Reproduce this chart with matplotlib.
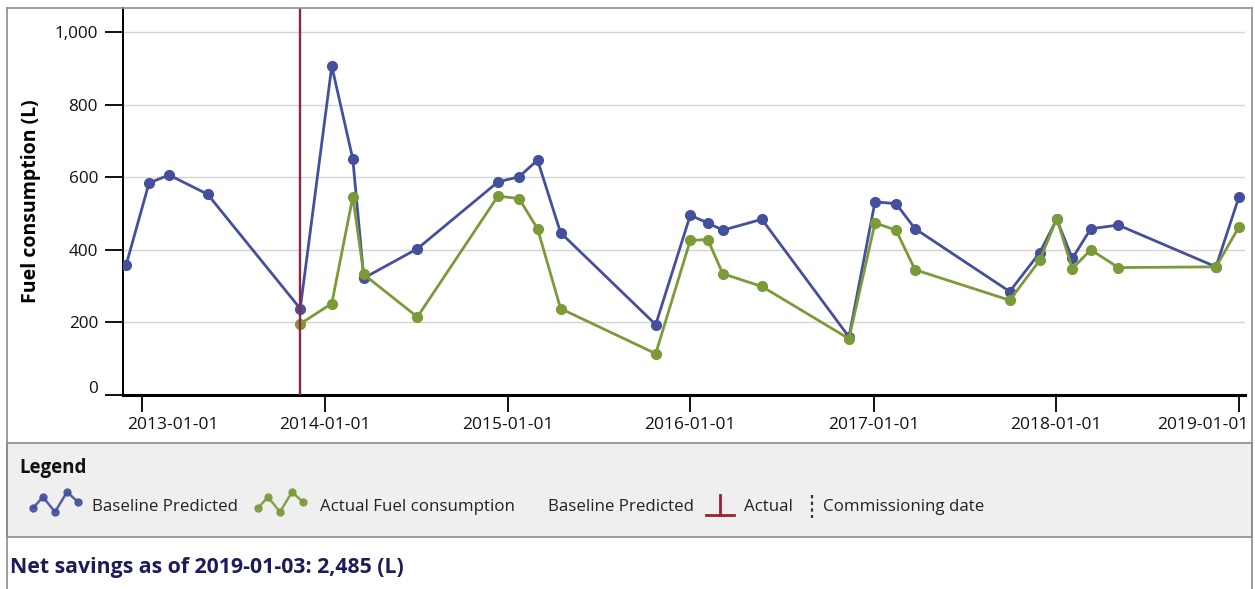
import matplotlib
matplotlib.use("Agg")
import matplotlib.pyplot as plt
import matplotlib.dates as mdates
import matplotlib.transforms as mtransforms
from matplotlib.patches import Rectangle
import numpy as np
import pandas as pd

plt.rcParams['font.family'] = ['Open Sans', 'DejaVu Sans']

# === data ===
baseline_dates = ["2012-11-30", "2013-01-15", "2013-02-24", "2013-05-12", "2013-11-13",
                  "2014-01-15", "2014-02-26", "2014-03-20", "2014-07-05", "2014-12-13",
                  "2015-01-24", "2015-03-02", "2015-04-17", "2015-10-24", "2016-01-01",
                  "2016-02-05", "2016-03-06", "2016-05-23", "2016-11-13", "2017-01-04",
                  "2017-02-15", "2017-03-25", "2017-09-30", "2017-11-29", "2018-01-02",
                  "2018-02-02", "2018-03-11", "2018-05-05", "2018-11-16", "2019-01-01"]
baseline_values = [357, 584, 606, 553, 238, 906, 650, 322, 403, 587,
                   601, 647, 447, 194, 495, 474, 454, 484, 160, 532,
                   527, 458, 285, 392, 484, 376, 458, 468, 353, 546]

actual_dates = ["2013-11-13", "2014-01-15", "2014-02-26", "2014-03-20", "2014-07-05",
                "2014-12-13", "2015-01-24", "2015-03-02", "2015-04-17", "2015-10-24",
                "2016-01-01", "2016-02-05", "2016-03-06", "2016-05-23", "2016-11-13",
                "2017-01-04", "2017-02-15", "2017-03-25", "2017-09-30", "2017-11-29",
                "2018-01-02", "2018-02-02", "2018-03-11", "2018-05-05", "2018-11-16",
                "2019-01-01"]
actual_values = [196, 252, 546, 332, 215, 548, 541, 458, 238, 114,
                 426, 428, 334, 299, 155, 474, 454, 345, 261, 371,
                 486, 348, 400, 351, 353, 463]

commissioning_date = "2013-11-12"
x_ticks = ["2013-01-01", "2014-01-01", "2015-01-01", "2016-01-01",
           "2017-01-01", "2018-01-01", "2019-01-01"]
y_ticks = [0, 200, 400, 600, 800, 1000]
legend_labels = ["Baseline Predicted", "Actual Fuel consumption", "Baseline Predicted",
                 "Actual", "Commissioning date"]
net_savings_text = "Net savings as of 2019-01-03: 2,485 (L)"

BLUE = "#44509c"
GREEN = "#7b9a38"
RED = "#9c1f35"

W, H = 1255, 589
fig = plt.figure(figsize=(W / 100, H / 100), dpi=100)
ax = fig.add_axes([123 / W, 1 - 395 / H, (1245 - 123) / W, (395 - 8) / H])

bd = pd.to_datetime(baseline_dates)
adt = pd.to_datetime(actual_dates)

ax.plot(bd, baseline_values, color=BLUE, lw=2.0, marker='o', ms=7,
        mfc=BLUE, mec=BLUE, zorder=3)
ax.plot(adt, actual_values, color=GREEN, lw=2.0, marker='o', ms=7,
        mfc=GREEN, mec=GREEN, zorder=4)
ax.axvline(pd.Timestamp(commissioning_date), color=RED, lw=1.7, zorder=5)
ax.axvline(pd.Timestamp(commissioning_date), color="#3a4a9a", lw=0.5, ls=':', zorder=6)

ax.set_xlim(pd.Timestamp("2012-11-24"), pd.Timestamp("2019-01-13"))
ax.set_ylim(0, 1066)

ax.set_xticks(pd.to_datetime(x_ticks))
ax.xaxis.set_major_formatter(mdates.DateFormatter("%Y-%m-%d"))
ax.set_yticks(y_ticks)
ax.set_yticklabels([f"{v:,}" for v in y_ticks])

ax.grid(axis='y', color='#d4d4d4', lw=1.0, zorder=0)
ax.set_axisbelow(True)
for s in ['top', 'right']:
    ax.spines[s].set_visible(False)
ax.spines['left'].set_linewidth(1.4)
ax.spines['bottom'].set_linewidth(2.2)

ax.tick_params(axis='y', direction='out', length=13, width=1.4, pad=5,
               labelsize=12.3, colors='#111111')
ax.tick_params(axis='x', direction='out', length=12, width=1.4, pad=4,
               labelsize=12.5, colors='#111111')
ax.set_ylabel("Fuel consumption (L)", fontsize=14, fontweight='bold', labelpad=10)

# edge tick labels kept inside the plot, as in the original
xl = ax.get_xticklabels()
xl[0].set_transform(xl[0].get_transform() + mtransforms.ScaledTranslation(0.31, 0, fig.dpi_scale_trans))
xl[-1].set_transform(xl[-1].get_transform() + mtransforms.ScaledTranslation(-0.36, 0, fig.dpi_scale_trans))
yl = ax.get_yticklabels()
yl[0].set_transform(yl[0].get_transform() + mtransforms.ScaledTranslation(0, 0.08, fig.dpi_scale_trans))

# === frame, legend panel and footer drawn in pixel coordinates ===
ov = fig.add_axes([0, 0, 1, 1], zorder=10)
ov.set_xlim(0, W)
ov.set_ylim(H, 0)
ov.axis('off')
ov.patch.set_alpha(0)

ov.plot([7, 7], [8, H], color='#8c8c8c', lw=1.2)
ov.plot([7, 1252], [8, 8], color='#8c8c8c', lw=1.2)
ov.plot([1252, 1252], [8, H], color='#8c8c8c', lw=1.2)
ov.add_patch(Rectangle((7, 443), 1245, 94, facecolor='#efefef', edgecolor='#8c8c8c', lw=1.2))

ov.text(19, 468, "Legend", fontsize=13.5, fontweight='bold', va='center', ha='left', color='#111111')

icon_x = np.array([0, 10, 22, 34, 45])
icon_y = np.array([508, 497, 512, 492, 502])
ov.plot(33 + icon_x, icon_y, color=BLUE, lw=1.8, marker='o', ms=5, alpha=0.9)
ov.plot(258 + icon_x, icon_y, color=GREEN, lw=1.8, marker='o', ms=5, alpha=0.9)
ov.plot([720, 720], [495, 515], color=RED, lw=2.0)
ov.plot([706, 734], [515, 515], color=RED, lw=2.0)
ov.plot([812, 812], [495, 518], color='#333333', lw=1.6, ls=(0, (1.5, 1.5)))

label_x = [92, 320, 548, 744, 823]
for lx, lab in zip(label_x, legend_labels):
    ov.text(lx, 507, lab, fontsize=12.2, va='center', ha='left', color='#222222')

ov.text(10, 567, net_savings_text, fontsize=15.3, fontweight='bold', va='center',
        ha='left', color='#1c1c5c')

fig.savefig("out.png", dpi=100)
